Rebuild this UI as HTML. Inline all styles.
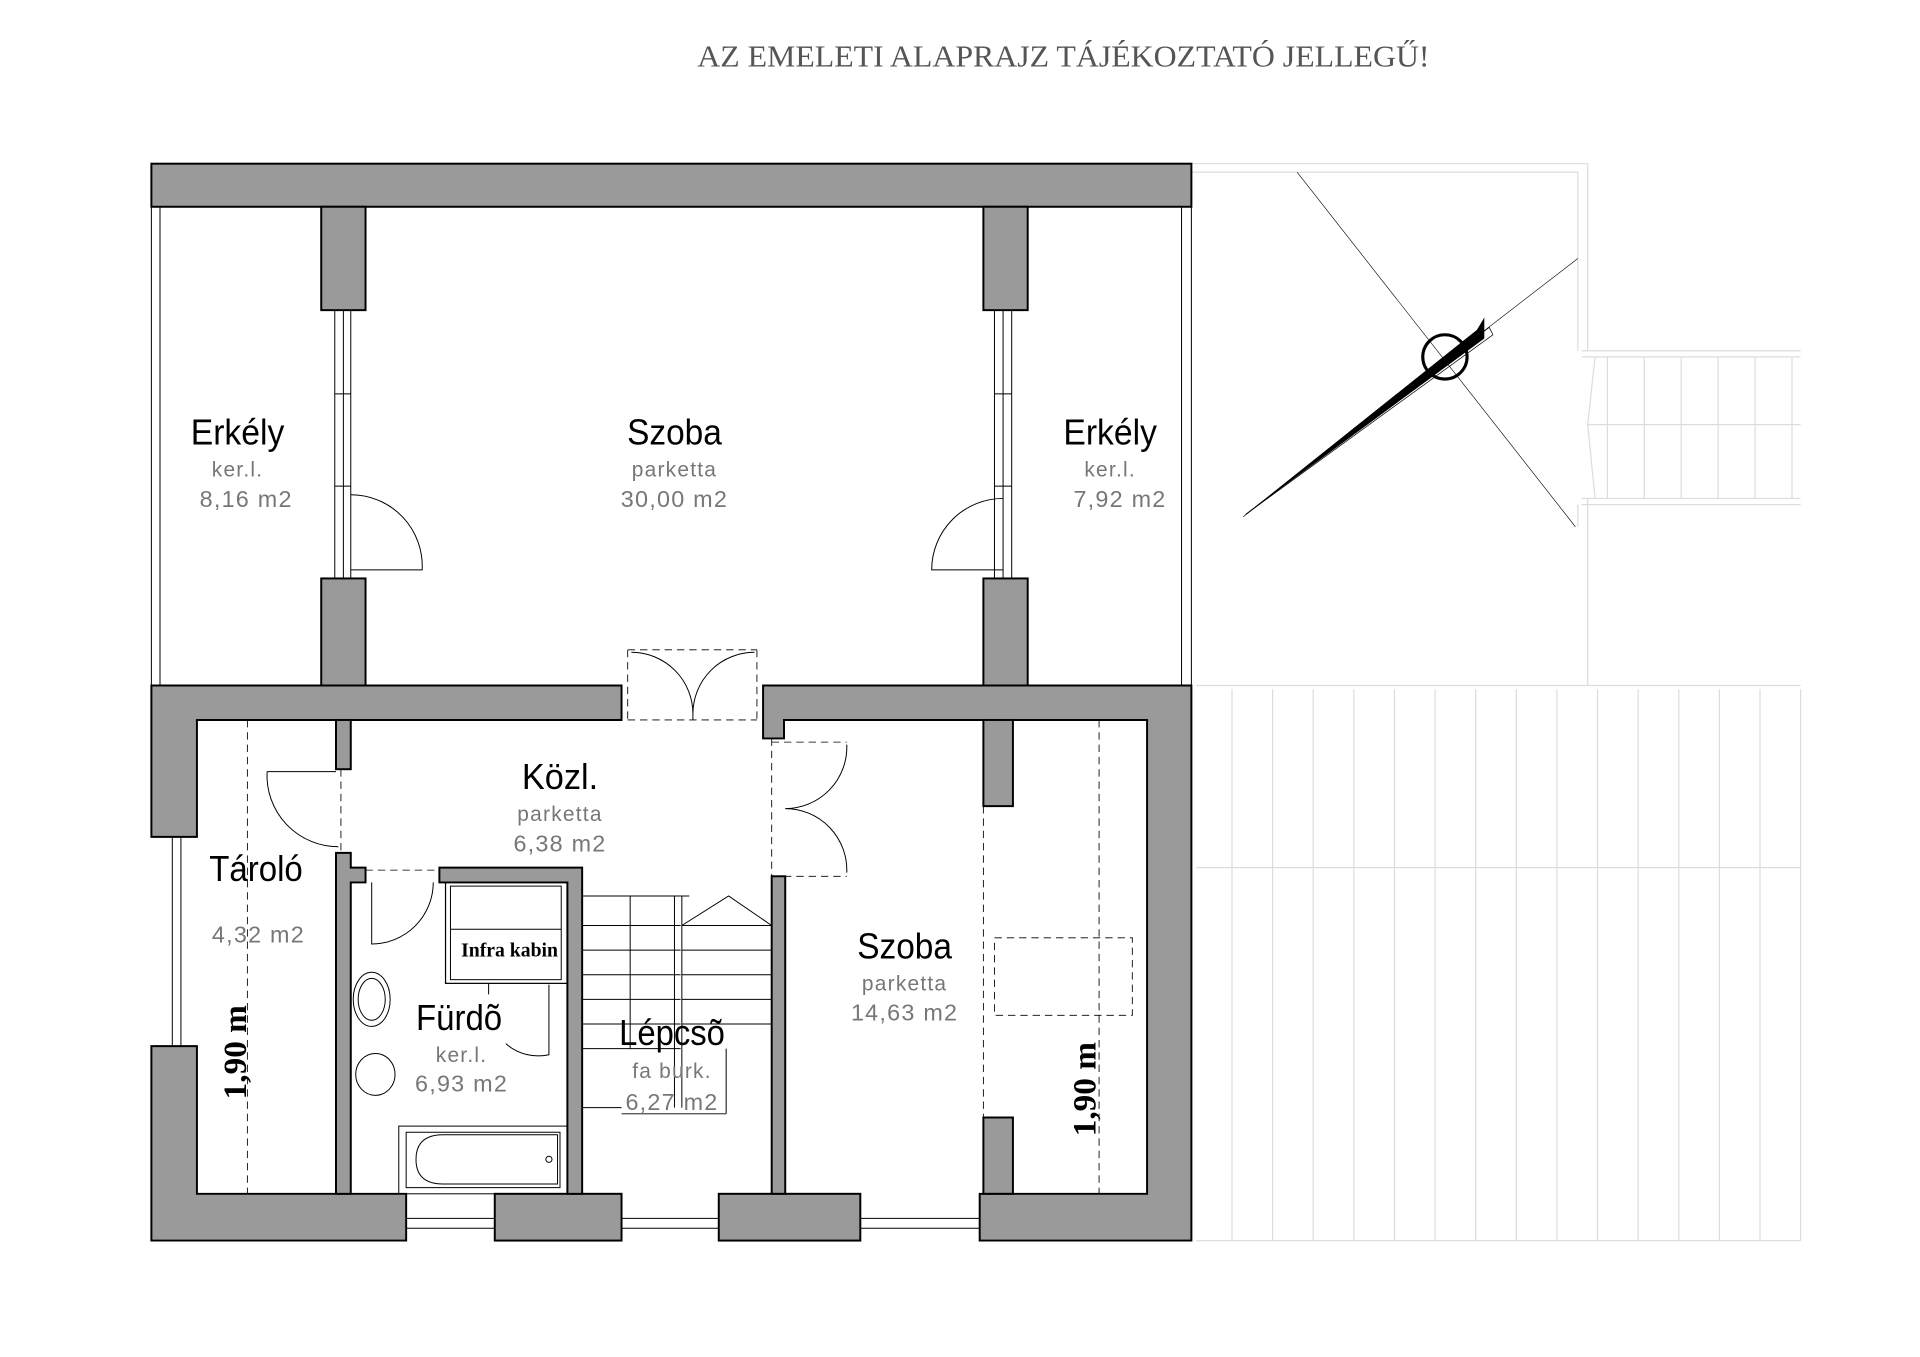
<!DOCTYPE html>
<html><head><meta charset="utf-8"><style>
html,body{margin:0;padding:0;background:#fff;width:1920px;height:1357px;overflow:hidden}
svg{display:block}
.w{fill:#9a9a9a;stroke:#000;stroke-width:1.6}
.t{stroke:#000;stroke-width:0.8;fill:none}
.f{stroke:#ddd;stroke-width:1;fill:none}
.d{stroke:#000;stroke-width:0.7;fill:none;stroke-dasharray:6 4}
.L{font-family:"Liberation Sans",sans-serif;font-size:29px;fill:#000;text-anchor:middle}
.s{font-family:"Liberation Sans",sans-serif;font-size:17px;fill:#777;text-anchor:middle;letter-spacing:1px}
.n{font-family:"Liberation Sans",sans-serif;font-size:19px;fill:#777;text-anchor:middle;letter-spacing:1px}
</style></head><body>
<svg width="1920" height="1357" viewBox="0 0 1560 1102.6" preserveAspectRatio="none" xmlns="http://www.w3.org/2000/svg">
<text x="864" y="54" font-family="Liberation Serif,serif" font-size="25" fill="#555" text-anchor="middle" textLength="595" lengthAdjust="spacingAndGlyphs">AZ EMELETI ALAPRAJZ TÁJÉKOZTATÓ JELLEGŰ!</text>

<path class="f" d="M968 133H1290V285M968 140H1282V285M1285 285H1463M1285 290H1463M1285 405H1463M1285 410H1463M1282 410V428M1290 405V557M1296 290L1290 345L1296 405M1290 345H1463M1306 290V405M1336 290V405M1366 290V405M1396 290V405M1426 290V405M1456 290V405M972 557H1463"/>
<g class="f">
<path d="M1001 560V1008M1034 560V1008M1067 560V1008M1100 560V1008M1133 560V1008M1166 560V1008M1199 560V1008M1232 560V1008M1265 560V1008M1298 560V1008M1331 560V1008M1364 560V1008M1397 560V1008M1430 560V1008M1463 560V1008M972 1008H1463M972 705H1463"/>
</g>
<path d="M1054 140L1280 428M1010 420L1282 210" stroke="#000" stroke-width="0.5" fill="none"/>
<circle cx="1174" cy="290" r="18" stroke="#000" stroke-width="2.5" fill="none"/>
<path d="M1012 418L1200 268L1206 258L1206 275Z" fill="#000"/>
<path d="M1012 418L1210 266L1213 272Z" fill="none" stroke="#000" stroke-width="0.6"/>

<path class="t" d="M123 168V557M130 168V557M960 168V557M968 168V557"/>
<path class="t" d="M272 252V470M279 252V470M285 252V470M272 320H285M272 395H285M808 252V470M815 252V470M822 252V470M808 320H822M808 395H822"/>
<path class="t" d="M285 402A58 58 0 0 1 343 463H285M815 405A58 58 0 0 0 757 463H815"/>
<path class="d" d="M510 528H615M510 528V585M615 528V585M510 585H615"/>
<path class="t" d="M563 585V580A50 50 0 0 0 513 530M563 580A50 50 0 0 1 613 530"/>
<path class="d" d="M627 603H688M627 712H688M627 600V712"/>
<path class="t" d="M638 657A50 50 0 0 0 688 605M638 657A50 50 0 0 1 688 709"/>
<path class="d" d="M277 625V693"/>
<path class="t" d="M217 627H273M217 627A58 58 0 0 0 275 688"/>
<path class="d" d="M297 707H357"/>
<path class="t" d="M302 717V767A50 50 0 0 0 352 717"/>
<path class="d" d="M201 585V970M799 655V908M893 585V970"/>
<rect class="d" x="808" y="762" width="112" height="63"/>
<rect x="362" y="717" width="99" height="82" fill="none" stroke="#000" stroke-width="1"/>
<rect x="366" y="720" width="90" height="76" fill="none" stroke="#000" stroke-width="0.8"/>
<line x1="366" y1="755" x2="456" y2="755" stroke="#000" stroke-width="0.8"/>
<path class="t" d="M397 799V808M411 848A40 40 0 0 0 446 857V800"/>
<ellipse cx="302" cy="812" rx="15" ry="22" class="t"/><ellipse cx="302" cy="812" rx="11" ry="17" class="t"/>
<ellipse cx="305" cy="873" rx="16" ry="17" class="t"/>
<rect x="324" y="915" width="137" height="55" class="t"/>
<path class="t" d="M330 920H455V965H330Z"/><path class="t" d="M360 922H453V962H360Q338 962 338 942Q338 922 360 922Z"/>
<circle cx="446" cy="942" r="2.5" class="t"/>
<g class="t" stroke-width="0.6">
<path d="M473 728H553M473 752H553M473 772H553M473 792H553M473 812H553M473 832H553M473 852H553M512 728V852M548 728V900M554 728V900M590 852V905M505 905H590M473 900H505"/>
<path d="M554 752H627M554 772H627M554 792H627M554 812H627M554 832H627M554 752L592 728L627 752M553 728H560"/>
</g>
<g class="w">
<rect x="123" y="133" width="845" height="35"/>
<rect x="261" y="168" width="36" height="84"/>
<rect x="261" y="470" width="36" height="87"/>
<rect x="799" y="168" width="36" height="84"/>
<rect x="799" y="470" width="36" height="87"/>
<path d="M123 557H505V585H160V680H123Z"/>
<path d="M123 850H160V970H330V1008H123Z"/>
<rect x="402" y="970" width="103" height="38"/>
<rect x="584" y="970" width="115" height="38"/>
<path d="M620 557H968V1008H796V970H932V585H637V600H620Z"/>
<rect x="799" y="585" width="24" height="70"/>
<rect x="799" y="908" width="24" height="62"/>
<rect x="273" y="585" width="12" height="40"/>
<path d="M273 693H285V705H297V717H285V970H273Z"/>
<path d="M357 705H473V970H461V717H357Z"/>
<rect x="627" y="712" width="11" height="258"/>
</g>
<path class="t" d="M330 990H402M330 998H402M505 990H584M505 998H584M699 990H796M699 998H796M140 680V850M147 680V850"/>

<text class="L" x="193" y="361" textLength="76" lengthAdjust="spacingAndGlyphs">Erkély</text><text class="s" x="193" y="387">ker.l.</text><text class="n" x="200" y="412">8,16  m2</text>
<text class="L" x="548" y="361" textLength="77" lengthAdjust="spacingAndGlyphs">Szoba</text><text class="s" x="548" y="387">parketta</text><text class="n" x="548" y="412">30,00  m2</text>
<text class="L" x="902" y="361" textLength="76" lengthAdjust="spacingAndGlyphs">Erkély</text><text class="s" x="902" y="387">ker.l.</text><text class="n" x="910" y="412">7,92  m2</text>
<text class="L" x="455" y="641" textLength="62" lengthAdjust="spacingAndGlyphs">Közl.</text><text class="s" x="455" y="667">parketta</text><text class="n" x="455" y="692">6,38  m2</text>
<text class="L" x="208" y="716" textLength="76" lengthAdjust="spacingAndGlyphs">Tároló</text><text class="n" x="210" y="766">4,32  m2</text>
<text class="L" x="373" y="837" textLength="70" lengthAdjust="spacingAndGlyphs">Fürdõ</text><text class="s" x="375" y="863">ker.l.</text><text class="n" x="375" y="887">6,93  m2</text>
<text class="L" x="546" y="849" textLength="86" lengthAdjust="spacingAndGlyphs">Lépcsõ</text><text class="s" x="546" y="876">fa  burk.</text><text class="n" x="546" y="902">6,27  m2</text>
<text class="L" x="735" y="779" textLength="77" lengthAdjust="spacingAndGlyphs">Szoba</text><text class="s" x="735" y="805">parketta</text><text class="n" x="735" y="829">14,63  m2</text>
<text x="414" y="777" font-family="Liberation Serif,serif" font-weight="bold" font-size="16" text-anchor="middle">Infra kabin</text>
<text transform="translate(200,855) rotate(-90)" font-family="Liberation Serif,serif" font-weight="bold" font-size="27" text-anchor="middle">1,90 m</text>
<text transform="translate(890,885) rotate(-90)" font-family="Liberation Serif,serif" font-weight="bold" font-size="27" text-anchor="middle">1,90 m</text>
</svg>
</body></html>
